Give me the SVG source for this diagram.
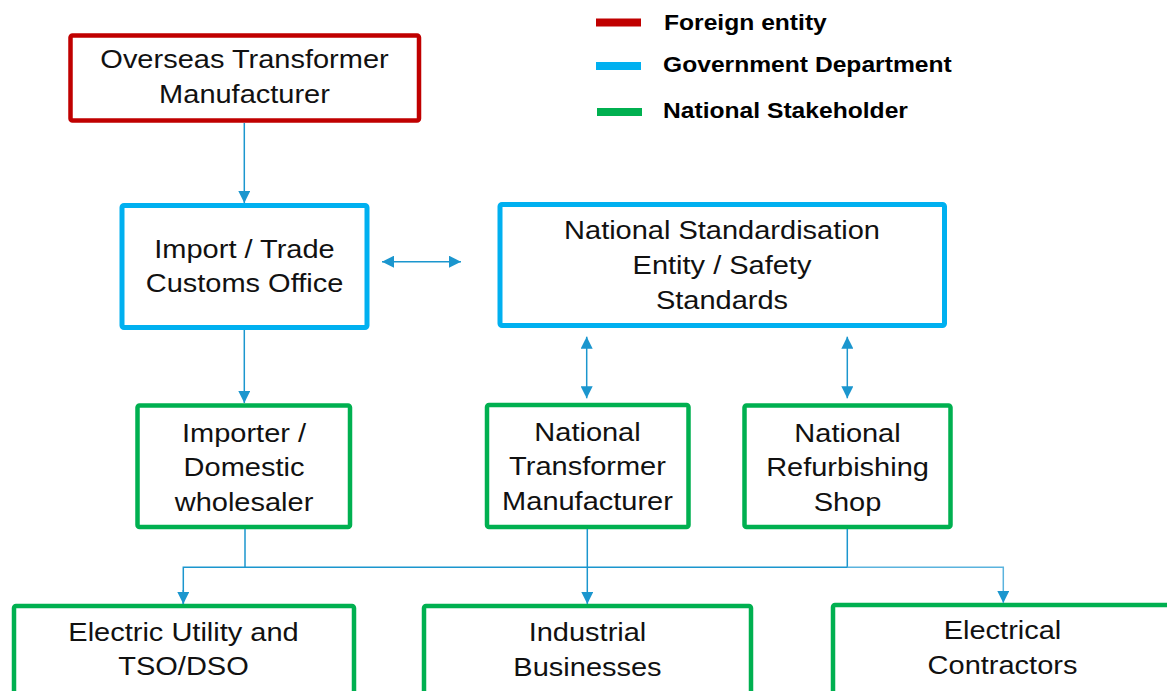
<svg xmlns="http://www.w3.org/2000/svg" width="1167" height="691" viewBox="0 0 1167 691">
  <style>
    .box { fill: #FFFFFF; stroke-width: 4.5; }
    .red { stroke: #C00000; }
    .blue { stroke: #00B0F0; stroke-width: 5; }
    .green { stroke: #00B050; }
    .lbl { font-family: "Liberation Sans", Arial, sans-serif; font-size: 25px; fill: #111111; text-anchor: middle; }
    .leg { font-family: "Liberation Sans", Arial, sans-serif; font-size: 22px; font-weight: bold; fill: #000000; }
    .conn { fill: none; stroke: #1B96CE; stroke-width: 1.5; }
    .conn2 { fill: none; stroke: #5AB3DE; stroke-width: 1.5; }
  </style>
  <defs>
    <marker id="ah" viewBox="0 0 12 12" refX="12" refY="6" markerWidth="12" markerHeight="12" markerUnits="userSpaceOnUse" orient="auto-start-reverse">
      <path d="M0,0 L12,6 L0,12 z" fill="#1B96CE"/>
    </marker>
  </defs>
  <rect width="1167" height="691" fill="#FFFFFF"/>

  <g id="legend">
    <line x1="596" y1="22.5" x2="641" y2="22.5" stroke="#C00000" stroke-width="8"/>
    <line x1="596" y1="66" x2="641" y2="66" stroke="#00B0F0" stroke-width="8"/>
    <line x1="597" y1="112" x2="642" y2="112" stroke="#00B050" stroke-width="8"/>
    <text class="leg" transform="translate(664,0) scale(1.12,1)" x="0" y="30">Foreign entity</text>
    <text class="leg" transform="translate(663,0) scale(1.12,1)" x="0" y="72">Government Department</text>
    <text class="leg" transform="translate(663,0) scale(1.12,1)" x="0" y="118">National Stakeholder</text>
  </g>

  <g id="overseas">
    <rect class="box red" x="70.5" y="35.5" width="348.5" height="85" rx="2"/>
    <g transform="translate(244.5,0) scale(1.16,1)">
      <text class="lbl" x="0" y="68.5">Overseas Transformer</text>
      <text class="lbl" x="0" y="103.5">Manufacturer</text>
    </g>
  </g>

  <g id="customs">
    <rect class="box blue" x="122" y="205.5" width="245" height="122" rx="2"/>
    <g transform="translate(244.5,0) scale(1.16,1)">
      <text class="lbl" x="0" y="258">Import / Trade</text>
      <text class="lbl" x="0" y="292.5">Customs Office</text>
    </g>
  </g>

  <g id="standards">
    <rect class="box blue" x="500" y="204.5" width="444.5" height="121" rx="2"/>
    <g transform="translate(722,0) scale(1.16,1)">
      <text class="lbl" x="0" y="239.5">National Standardisation</text>
      <text class="lbl" x="0" y="274.5">Entity / Safety</text>
      <text class="lbl" x="0" y="309.5">Standards</text>
    </g>
  </g>

  <g id="importer">
    <rect class="box green" x="137.5" y="405.5" width="212.5" height="121.5" rx="2"/>
    <g transform="translate(244,0) scale(1.16,1)">
      <text class="lbl" x="0" y="442">Importer /</text>
      <text class="lbl" x="0" y="476.5">Domestic</text>
      <text class="lbl" x="0" y="511">wholesaler</text>
    </g>
  </g>

  <g id="national-manufacturer">
    <rect class="box green" x="487" y="405" width="201.5" height="122" rx="2"/>
    <g transform="translate(587.5,0) scale(1.16,1)">
      <text class="lbl" x="0" y="441">National</text>
      <text class="lbl" x="0" y="475.5">Transformer</text>
      <text class="lbl" x="0" y="510">Manufacturer</text>
    </g>
  </g>

  <g id="refurbishing">
    <rect class="box green" x="744.5" y="405.5" width="206" height="121.5" rx="2"/>
    <g transform="translate(847.5,0) scale(1.16,1)">
      <text class="lbl" x="0" y="442">National</text>
      <text class="lbl" x="0" y="476.5">Refurbishing</text>
      <text class="lbl" x="0" y="511">Shop</text>
    </g>
  </g>

  <g id="utility">
    <rect class="box green" x="14" y="606" width="340" height="100" rx="2"/>
    <g transform="translate(183.5,0) scale(1.16,1)">
      <text class="lbl" x="0" y="641">Electric Utility and</text>
      <text class="lbl" x="0" y="675">TSO/DSO</text>
    </g>
  </g>

  <g id="industrial">
    <rect class="box green" x="424" y="606" width="327" height="100" rx="2"/>
    <g transform="translate(587.5,0) scale(1.16,1)">
      <text class="lbl" x="0" y="641">Industrial</text>
      <text class="lbl" x="0" y="676">Businesses</text>
    </g>
  </g>

  <g id="contractors">
    <rect class="box green" x="833" y="605" width="340" height="100" rx="2"/>
    <g transform="translate(1002.5,0) scale(1.16,1)">
      <text class="lbl" x="0" y="639.5">Electrical</text>
      <text class="lbl" x="0" y="674">Contractors</text>
    </g>
  </g>

  <g id="connectors">
    <line class="conn" x1="244.3" y1="123" x2="244.3" y2="203" marker-end="url(#ah)"/>
    <line class="conn" x1="382" y1="261.7" x2="461" y2="261.7" marker-start="url(#ah)" marker-end="url(#ah)"/>
    <line class="conn" x1="244.3" y1="330" x2="244.3" y2="403" marker-end="url(#ah)"/>
    <line class="conn" x1="586.7" y1="336.7" x2="586.7" y2="398.3" marker-start="url(#ah)" marker-end="url(#ah)"/>
    <line class="conn" x1="847.3" y1="336.7" x2="847.3" y2="398.3" marker-start="url(#ah)" marker-end="url(#ah)"/>
    <polyline class="conn" points="245,529 245,567.3"/>
    <polyline class="conn" points="847.3,529 847.3,567.3 183.3,567.3 183.3,604"/>
    <line class="conn" x1="587.3" y1="529" x2="587.3" y2="604" marker-end="url(#ah)"/>
    <line class="conn" x1="183.3" y1="590" x2="183.3" y2="604" marker-end="url(#ah)"/>
    <polyline class="conn2" points="847.3,567.3 1003.3,567.3 1003.3,603" marker-end="url(#ah)"/>
  </g>
</svg>
